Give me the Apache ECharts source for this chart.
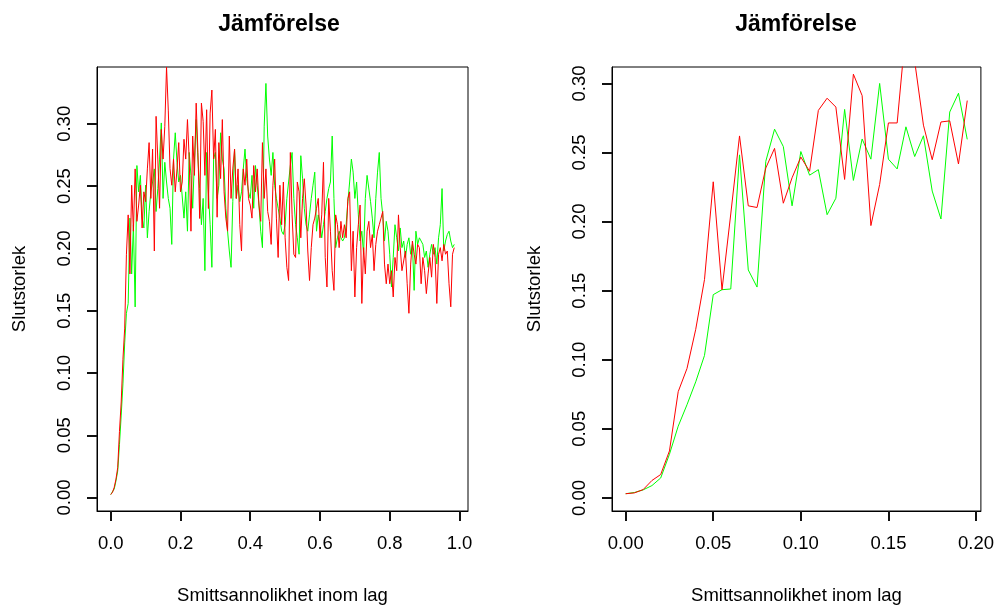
<!DOCTYPE html>
<html>
<head>
<meta charset="utf-8">
<script src="https://cdn.jsdelivr.net/npm/echarts@6/dist/echarts.min.js"></script>
<style>
html,body{margin:0;padding:0;background:#fff;}
#c{width:997px;height:610px;}
</style>
</head>
<body>
<div id="c"></div>
<script>
// ---- data ----
const xStep = 0.005;

// Left panel: probability 0 .. 0.985 (198 points)
const leftGreen = [
0.0024,0.0034,0.0069,0.0134,0.0213,0.0424,0.0662,0.0912,0.1241,0.1479,
0.1558,0.2243,0.1795,0.2190,0.1530,0.2665,0.2454,0.2586,0.2243,0.2164,
0.2507,0.2085,0.2296,0.2454,0.2533,0.2638,0.2296,0.2480,0.2717,0.3007,
0.2401,0.2691,0.2533,0.2401,0.2322,0.2032,0.2717,0.2928,0.2691,0.2533,
0.2586,0.2586,0.2243,0.2454,0.2138,0.2770,0.2586,0.2322,0.2717,0.3034,
0.2717,0.2480,0.2190,0.2401,0.1821,0.2770,0.2454,0.2190,0.1848,0.2717,
0.2770,0.2401,0.2507,0.2928,0.2717,0.2638,0.2322,0.2138,0.1979,0.1848,
0.2375,0.2797,0.2401,0.2507,0.2375,0.2454,0.2638,0.2797,0.2560,0.2454,
0.2401,0.2586,0.2322,0.2665,0.2507,0.2348,0.2138,0.2006,0.2981,0.3324,
0.2902,0.2717,0.2586,0.2770,0.2507,0.2401,0.2322,0.2243,0.2138,0.2112,
0.2190,0.2401,0.2533,0.2665,0.2770,0.2401,0.2190,0.2085,0.1953,0.2744,
0.2559,0.2322,0.2190,0.2138,0.2269,0.2401,0.2507,0.2612,0.2138,0.2269,
0.2190,0.2085,0.2190,0.2296,0.2401,0.2480,0.2533,0.2902,0.2401,0.2006,
0.2085,0.2138,0.2085,0.2059,0.2085,0.2190,0.2375,0.2533,0.2717,0.2612,
0.2401,0.2533,0.2269,0.2059,0.2138,0.1953,0.2401,0.2586,0.2586,0.2375,
0.2243,0.2085,0.2401,0.2612,0.2770,0.2401,0.2269,0.2059,0.2217,0.2138,
0.1953,0.1690,0.1927,0.2190,0.2085,0.1979,0.2164,0.2006,0.2059,0.1927,
0.2032,0.2085,0.1953,0.2032,0.1663,0.2138,0.2032,0.2085,0.2059,0.2032,
0.1927,0.1979,0.1848,0.1953,0.2032,0.1953,0.2006,0.1874,0.2085,0.2190,
0.2480,0.1979,0.2059,0.2111,0.2138,0.2059,0.2006,0.2032
];
const leftRed = [
0.0024,0.0042,0.0082,0.0148,0.0240,0.0530,0.0767,0.1110,0.1360,0.1953,
0.2269,0.1795,0.2507,0.2138,0.2638,0.2217,0.2348,0.2507,0.2164,0.2454,
0.2375,0.2638,0.2849,0.2401,0.2797,0.1979,0.3060,0.2717,0.2322,0.2955,
0.2717,0.2980,0.3455,0.3110,0.2640,0.2507,0.2717,0.2454,0.2638,0.2849,
0.2454,0.2533,0.2876,0.2717,0.3034,0.2717,0.2138,0.2902,0.2586,0.3166,
0.2770,0.2240,0.3166,0.3020,0.2586,0.3113,0.2320,0.3086,0.3271,0.2717,
0.2955,0.2250,0.2849,0.2560,0.3034,0.2454,0.2243,0.2138,0.2902,0.2401,
0.2638,0.2797,0.2401,0.2638,0.2190,0.1979,0.2638,0.2507,0.2717,0.2401,
0.2348,0.2243,0.2665,0.2454,0.2638,0.2348,0.2217,0.2849,0.2401,0.2638,
0.2296,0.2217,0.2032,0.2507,0.2717,0.2243,0.1927,0.2507,0.2190,0.2533,
0.2085,0.1848,0.1742,0.2770,0.2269,0.1953,0.1927,0.2533,0.2454,0.2085,
0.2401,0.2559,0.2348,0.1979,0.1742,0.2006,0.2190,0.2243,0.2322,0.2401,
0.2085,0.2269,0.2691,0.1927,0.1690,0.2401,0.2138,0.1821,0.1663,0.2269,
0.2190,0.2006,0.2217,0.2085,0.2190,0.2085,0.2401,0.2454,0.1821,0.2138,
0.1610,0.2006,0.2190,0.2348,0.1558,0.2006,0.1795,0.2138,0.2217,0.2006,
0.2111,0.1821,0.2032,0.2138,0.2190,0.2243,0.2296,0.1874,0.1716,0.1874,
0.1716,0.1821,0.1610,0.1927,0.1821,0.2269,0.2006,0.1821,0.1821,0.1979,
0.1716,0.1479,0.1874,0.2059,0.1953,0.1874,0.2032,0.2006,0.1716,0.1927,
0.1821,0.1637,0.1795,0.1927,0.1769,0.2032,0.1927,0.1558,0.1953,0.2006,
0.1900,0.2032,0.1953,0.1979,0.1716,0.1531,0.1953,0.2006
];

// Right panel: probability 0 .. 0.195 (40 points)
const rightGreen = [
0.0030,0.0039,0.0058,0.0089,0.0144,0.0316,0.0519,0.0674,0.0840,0.1031,
0.1471,0.1507,0.1512,0.2483,0.1650,0.1526,0.2436,0.2669,0.2543,0.2114,
0.2507,0.2336,0.2376,0.2050,0.2169,0.2812,0.2298,0.2598,0.2452,0.3000,
0.2452,0.2381,0.2686,0.2471,0.2621,0.2221,0.2019,0.2793,0.2929,0.2595
];
const rightRed = [
0.0030,0.0036,0.0060,0.0126,0.0169,0.0340,0.0769,0.0936,0.1220,0.1580,
0.2288,0.1507,0.2055,0.2620,0.2114,0.2102,0.2388,0.2530,0.2133,0.2317,
0.2467,0.2364,0.2805,0.2893,0.2829,0.2305,0.3067,0.2912,0.1971,0.2269,
0.2714,0.2714,0.3400,0.3160,0.2698,0.2448,0.2721,0.2729,0.2417,0.2876
];

// Tick labels
const leftXTicks = [0, 0.2, 0.4, 0.6, 0.8, 1.0];
const rightXTicks = [0, 0.05, 0.10, 0.15, 0.20];
const yTicks = [0, 0.05, 0.10, 0.15, 0.20, 0.25, 0.30];

const titleText = 'Jämförelse';
const xName = 'Smittsannolikhet inom lag';
const yName = 'Slutstorlek';

// ---- chart ----
const pairs = (arr) => arr.map((v, i) => [+(i * xStep).toFixed(3), v]);
const FONT = '"Liberation Sans", Arial, sans-serif';
const LBL = 18.5;

function xAxisFor(gridIndex, ticks, dec, min, max) {
  return {
    type: 'value', gridIndex, min, max, position: 'bottom',
    name: xName, nameLocation: 'middle', nameGap: 75,
    nameTextStyle: { fontFamily: FONT, fontSize: LBL, color: '#000' },
    axisLine: { show: true, onZero: false, lineStyle: { color: '#000', width: 1 } },
    axisTick: { show: true, length: 10, customValues: ticks,
                lineStyle: { color: '#111', width: 2 } },
    axisLabel: { show: true, customValues: ticks, margin: 23,
                 fontFamily: FONT, fontSize: LBL, color: '#000',
                 formatter: (v) => Number(v).toFixed(dec) },
    splitLine: { show: false }
  };
}
function yAxisFor(gridIndex, min, max) {
  return {
    type: 'value', gridIndex, min, max, position: 'left',
    name: yName, nameLocation: 'middle', nameGap: 68, nameRotate: 90,
    nameTextStyle: { fontFamily: FONT, fontSize: LBL, color: '#000' },
    axisLine: { show: true, onZero: false, lineStyle: { color: '#000', width: 1 } },
    axisTick: { show: true, length: 10, customValues: yTicks,
                lineStyle: { color: '#111', width: 2 } },
    axisLabel: { show: true, customValues: yTicks, rotate: 90, margin: 23,
                 fontFamily: FONT, fontSize: LBL, color: '#000',
                 formatter: (v) => Number(v).toFixed(2) },
    splitLine: { show: false }
  };
}

const chart = echarts.init(document.getElementById('c'), null, { renderer: 'canvas' });
chart.setOption({
  animation: false,
  backgroundColor: '#fff',
  title: [
    { text: titleText, left: 274, top: 8, textAlign: 'center',
      textStyle: { fontFamily: FONT, fontSize: 23, fontWeight: 'bold', color: '#000' } },
    { text: titleText, left: 791, top: 8, textAlign: 'center',
      textStyle: { fontFamily: FONT, fontSize: 23, fontWeight: 'bold', color: '#000' } }
  ],
  grid: [
    { left: 97, top: 67, width: 371, height: 450, show: true, borderColor: '#000', borderWidth: 1 },
    { left: 612, top: 67, width: 371, height: 450, show: true, borderColor: '#000', borderWidth: 1 }
  ],
  xAxis: [
    xAxisFor(0, leftXTicks, 1, -0.0394, 1.0244),
    xAxisFor(1, rightXTicks, 2, -0.0078, 0.2028)
  ],
  yAxis: [
    yAxisFor(0, -0.0108, 0.3456),
    yAxisFor(1, -0.0095, 0.3119)
  ],
  series: [
    { type: 'line', xAxisIndex: 0, yAxisIndex: 0, data: pairs(leftGreen), symbol: 'none',
      lineStyle: { color: '#00FF00', width: 1 }, clip: true },
    { type: 'line', xAxisIndex: 0, yAxisIndex: 0, data: pairs(leftRed), symbol: 'none',
      lineStyle: { color: '#FF0000', width: 1 }, clip: true },
    { type: 'line', xAxisIndex: 1, yAxisIndex: 1, data: pairs(rightGreen), symbol: 'none',
      lineStyle: { color: '#00FF00', width: 1 }, clip: true },
    { type: 'line', xAxisIndex: 1, yAxisIndex: 1, data: pairs(rightRed), symbol: 'none',
      lineStyle: { color: '#FF0000', width: 1 }, clip: true }
  ]
});
</script>
</body>
</html>
